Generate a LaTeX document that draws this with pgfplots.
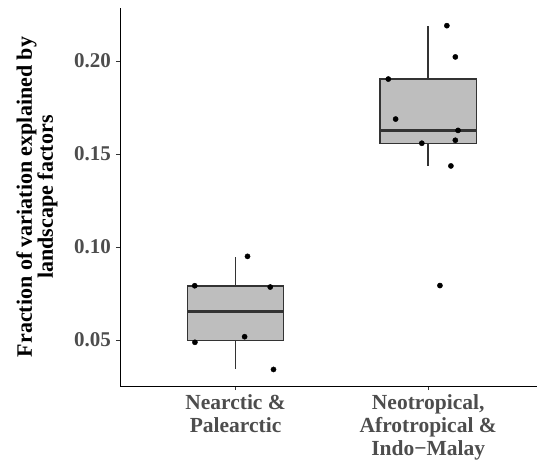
\documentclass[border=0pt]{standalone}
\usepackage{fontspec}
\setmainfont{Liberation Serif}
\usepackage{pgfplots}
\pgfplotsset{compat=1.18}
\definecolor{boxfill}{HTML}{BEBEBE}
\definecolor{boxline}{HTML}{333333}
\definecolor{ticktext}{HTML}{4D4D4D}

\begin{document}
\begin{tikzpicture}
\begin{axis}[
    name=ax,
    scale only axis,
    width=417pt,
    height=378pt,
    xmin=0.4, xmax=2.565,
    ymin=0.0253, ymax=0.2285,
    axis x line*=bottom,
    axis y line*=left,
    axis line style={black, line width=0.9pt},
    xtick={1,2},
    xticklabels={{Nearctic \&\\Palearctic},{Neotropical,\\Afrotropical \&\\Indo−Malay}},
    ytick={0.05,0.10,0.15,0.20},
    /pgf/number format/assume math mode=true,
    /pgf/number format/fixed,
    /pgf/number format/fixed zerofill,
    /pgf/number format/precision=2,
    tick align=outside,
    major tick length=4pt,
    tick style={boxline, line width=0.9pt},
    yticklabel style={font=\fontsize{21}{23}\selectfont\bfseries, text=ticktext, inner sep=5pt},
    xticklabel style={font=\fontsize{21.5}{23}\selectfont\bfseries, text=ticktext, align=center, inner sep=4.5pt},
    ylabel={Fraction of variation explained by\\landscape factors},
    ylabel style={font=\fontsize{22}{21}\selectfont\bfseries, align=center, inner sep=0pt,
        at={(axis description cs:-0.149,0.5)}, anchor=south},
    clip=false,
]
% Nearctic & Palearctic: whiskers, box, median
\addplot[boxline, line width=1.4pt] coordinates {(1,0.0790) (1,0.0948)};
\addplot[boxline, line width=1.4pt] coordinates {(1,0.0346) (1,0.0498)};
\addplot[fill=boxfill, draw=boxline, line width=1.4pt] coordinates {
    (0.75,0.0498) (1.25,0.0498) (1.25,0.0790) (0.75,0.0790)} -- cycle;
\addplot[boxline, line width=2.6pt] coordinates {(0.75,0.0652) (1.25,0.0652)};
% Neotropical, Afrotropical & Indo-Malay
\addplot[boxline, line width=1.4pt] coordinates {(2,0.1903) (2,0.2190)};
\addplot[boxline, line width=1.4pt] coordinates {(2,0.1438) (2,0.1558)};
\addplot[fill=boxfill, draw=boxline, line width=1.4pt] coordinates {
    (1.75,0.1558) (2.25,0.1558) (2.25,0.1903) (1.75,0.1903)} -- cycle;
\addplot[boxline, line width=2.6pt] coordinates {(1.75,0.1627) (2.25,0.1627)};
% jittered observations
\addplot[only marks, mark=*, mark size=2.6pt, black] coordinates {
    (0.788,0.0792) (1.062,0.0950) (1.180,0.0785)
    (0.789,0.0488) (1.047,0.0518) (1.197,0.0342)
};
\addplot[only marks, mark=*, mark size=2.6pt, black] coordinates {
    (2.097,0.2190) (2.141,0.2022) (1.793,0.1903)
    (1.831,0.1688) (2.155,0.1627) (2.141,0.1574)
    (1.967,0.1558) (2.118,0.1436) (2.061,0.0793)
};
\end{axis}
\pgfresetboundingbox
\path (ax.south west) ++(-120pt,-78pt) rectangle ([yshift=8pt]ax.north east);
\end{tikzpicture}
\end{document}
